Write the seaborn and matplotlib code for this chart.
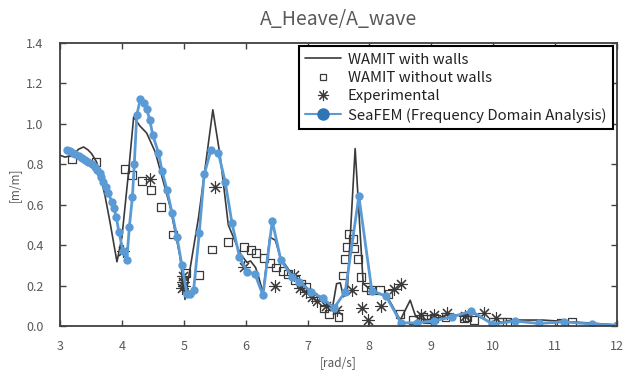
import seaborn as sns
from matplotlib import pyplot as plt
from matplotlib.lines import Line2D
import pandas as pd

# WAMIT with walls (solid line)
wall_x = [3.00, 3.08, 3.20, 3.30, 3.38, 3.45, 3.51, 3.59, 3.67, 3.73, 3.81, 3.92,
          4.00, 4.11, 4.19, 4.29, 4.40, 4.54, 4.62, 4.78, 4.94, 5.02, 5.24, 5.47,
          5.59, 5.72, 5.91, 6.02, 6.08, 6.16, 6.21, 6.28, 6.39, 6.48, 6.56, 6.72,
          6.88, 7.10, 7.26, 7.40, 7.47, 7.53, 7.58, 7.64, 7.77, 7.90, 8.02, 8.29,
          8.50, 8.66, 8.75, 8.90, 9.10, 9.30, 9.50, 9.70, 10.00, 10.30, 10.80,
          11.30, 11.60, 12.00]
wall_y = [0.845, 0.836, 0.845, 0.875, 0.886, 0.872, 0.853, 0.812, 0.720, 0.640, 0.510, 0.318,
          0.440, 0.770, 1.035, 0.990, 0.955, 0.860, 0.770, 0.590, 0.343, 0.132, 0.540, 1.070,
          0.837, 0.500, 0.360, 0.315, 0.322, 0.290, 0.244, 0.165, 0.440, 0.425, 0.340, 0.268,
          0.210, 0.160, 0.128, 0.085, 0.210, 0.214, 0.145, 0.160, 0.878, 0.210, 0.180, 0.145,
          0.030, 0.128, 0.046, 0.030, 0.040, 0.060, 0.050, 0.060, 0.010, 0.030, 0.030,
          0.020, 0.015, 0.005]

# WAMIT without walls (open squares)
nowall_x = [3.20, 3.58, 4.05, 4.16, 4.32, 4.47, 4.63, 4.82, 5.04, 5.24, 5.45, 5.71,
            5.98, 6.08, 6.17, 6.29, 6.40, 6.49, 6.60, 6.69, 6.80, 6.90, 6.98, 7.26,
            7.35, 7.50, 7.58, 7.61, 7.64, 7.67, 7.73, 7.76, 7.81, 7.87, 7.94, 8.02,
            8.17, 8.31, 8.50, 8.70, 8.86, 8.93, 9.04, 9.23, 9.53, 9.58, 9.69, 9.99,
            10.15, 10.23, 11.09, 11.28]
nowall_y = [0.824, 0.812, 0.775, 0.746, 0.718, 0.672, 0.588, 0.453, 0.264, 0.252, 0.379, 0.418,
            0.392, 0.378, 0.360, 0.335, 0.313, 0.290, 0.272, 0.256, 0.230, 0.210, 0.195, 0.087,
            0.060, 0.045, 0.250, 0.330, 0.390, 0.455, 0.430, 0.384, 0.330, 0.244, 0.195, 0.180,
            0.177, 0.160, 0.058, 0.032, 0.045, 0.035, 0.038, 0.045, 0.040, 0.046, 0.030, 0.020,
            0.021, 0.021, 0.018, 0.021]

# Experimental (asterisks)
exp_x = [4.02, 4.46, 4.97, 4.98, 4.99, 5.01, 5.51, 5.97, 6.48, 6.78, 6.88, 6.97,
         7.07, 7.15, 7.30, 7.48, 7.72, 7.88, 7.98, 8.18, 8.40, 8.51, 8.83, 9.05,
         9.26, 9.55, 9.85, 10.04]
exp_y = [0.370, 0.730, 0.190, 0.220, 0.250, 0.200, 0.690, 0.290, 0.200, 0.255, 0.190, 0.170,
         0.145, 0.125, 0.100, 0.080, 0.178, 0.090, 0.030, 0.100, 0.186, 0.210, 0.055, 0.055,
         0.063, 0.050, 0.066, 0.040]

# SeaFEM (Frequency Domain Analysis)
sea_x = [3.12, 3.16, 3.21, 3.24, 3.30, 3.35, 3.40, 3.46, 3.51, 3.56, 3.59, 3.64,
         3.67, 3.70, 3.74, 3.78, 3.84, 3.87, 3.91, 3.95, 4.02, 4.08, 4.12, 4.17,
         4.20, 4.24, 4.30, 4.35, 4.40, 4.45, 4.50, 4.59, 4.65, 4.73, 4.81, 4.89,
         4.97, 5.05, 5.10, 5.16, 5.25, 5.33, 5.44, 5.56, 5.67, 5.78, 5.90, 6.02,
         6.15, 6.28, 6.43, 6.57, 6.75, 6.87, 7.06, 7.25, 7.43, 7.61, 7.83, 8.04,
         8.27, 8.51, 8.77, 9.04, 9.34, 9.65, 9.99, 10.35, 10.74, 11.14, 11.60, 12.00]
sea_y = [0.873, 0.865, 0.857, 0.849, 0.840, 0.832, 0.824, 0.812, 0.800, 0.787, 0.771, 0.755,
         0.735, 0.713, 0.689, 0.656, 0.615, 0.582, 0.540, 0.466, 0.371, 0.326, 0.490, 0.640,
         0.800, 1.043, 1.125, 1.105, 1.075, 1.020, 0.944, 0.858, 0.766, 0.672, 0.560, 0.441,
         0.300, 0.160, 0.158, 0.181, 0.460, 0.750, 0.872, 0.855, 0.713, 0.508, 0.343, 0.270,
         0.258, 0.152, 0.520, 0.326, 0.245, 0.219, 0.170, 0.137, 0.090, 0.170, 0.643, 0.175,
         0.148, 0.016, 0.016, 0.025, 0.046, 0.074, 0.010, 0.025, 0.013, 0.021, 0.010, 0.005]

sns.set_theme(style="white")
plt.rcParams['font.family'] = ['Noto Sans CJK KR', 'DejaVu Sans']
grey = "#595959"
dark = "#3a3a3a"
blue = "#5b9bd5"

fig, ax = plt.subplots(figsize=(6.32, 3.71), dpi=100)
fig.subplots_adjust(left=0.095, right=0.976, bottom=0.121, top=0.884)

sns.lineplot(x=wall_x, y=wall_y, color=dark, linewidth=1.2, sort=False, ax=ax)
sns.scatterplot(x=nowall_x, y=nowall_y, marker="s", s=32, facecolor="none",
                edgecolor=dark, linewidth=0.9, ax=ax)
sns.scatterplot(x=exp_x, y=exp_y, marker=(8, 2, 0), s=75, color=dark,
                linewidth=0.8, ax=ax)
sns.lineplot(x=sea_x, y=sea_y, color=blue, linewidth=2, marker="o",
             markersize=6, markeredgewidth=0, markerfacecolor=blue, sort=False, ax=ax)

ax.set_xlim(3, 12)
ax.set_ylim(0, 1.4)
ax.set_xticks(range(3, 13))
yt = [0, 0.2, 0.4, 0.6, 0.8, 1.0, 1.2, 1.4]
ax.set_yticks(yt)
ax.set_yticklabels([f"{v:.1f}" for v in yt])

for s in ax.spines.values():
    s.set_color("#404040")
    s.set_linewidth(1.3)

ax.tick_params(axis="y", left=True, direction="out", length=4,
               width=1, color="#404040", labelsize=9, labelcolor=grey, pad=12)
ax.tick_params(axis="y", right=True, direction="in", length=4, width=1, color="#404040")
ax.tick_params(axis="x", bottom=True, top=True, direction="in", length=4, width=1,
               color="#404040", labelsize=9, labelcolor=grey, pad=10)

ax.set_title("A_Heave/A_wave", fontsize=14, color=grey, pad=13)
ax.set_xlabel("[rad/s]", fontsize=8.5, color=grey, labelpad=2)
ax.set_ylabel("[m/m]", fontsize=8.5, color=grey, labelpad=4)

handles = [
    Line2D([], [], color=dark, linewidth=1.2),
    Line2D([], [], linestyle="none", marker="s", markersize=5, markerfacecolor="none",
           markeredgecolor=dark, markeredgewidth=0.9),
    Line2D([], [], linestyle="none", marker=(8, 2, 0), markersize=8, color=dark,
           markeredgewidth=0.8),
    Line2D([], [], color=blue, linewidth=1.5, marker="o", markersize=9,
           markerfacecolor="#2e75b6", markeredgewidth=0),
]
labels = ["WAMIT with walls", "WAMIT without walls", "Experimental",
          "SeaFEM (Frequency Domain Analysis)"]
leg = ax.legend(handles, labels, loc="upper right", bbox_to_anchor=(0.993, 0.99),
                fontsize=10.7, frameon=True, fancybox=False, framealpha=1,
                edgecolor="black", borderpad=0.45, labelspacing=0.3,
                handlelength=2.4, handletextpad=0.45, borderaxespad=0)
leg.get_frame().set_linewidth(1.5)
for t in leg.get_texts():
    t.set_color("#222222")

plt.savefig("out.png", dpi=100)
